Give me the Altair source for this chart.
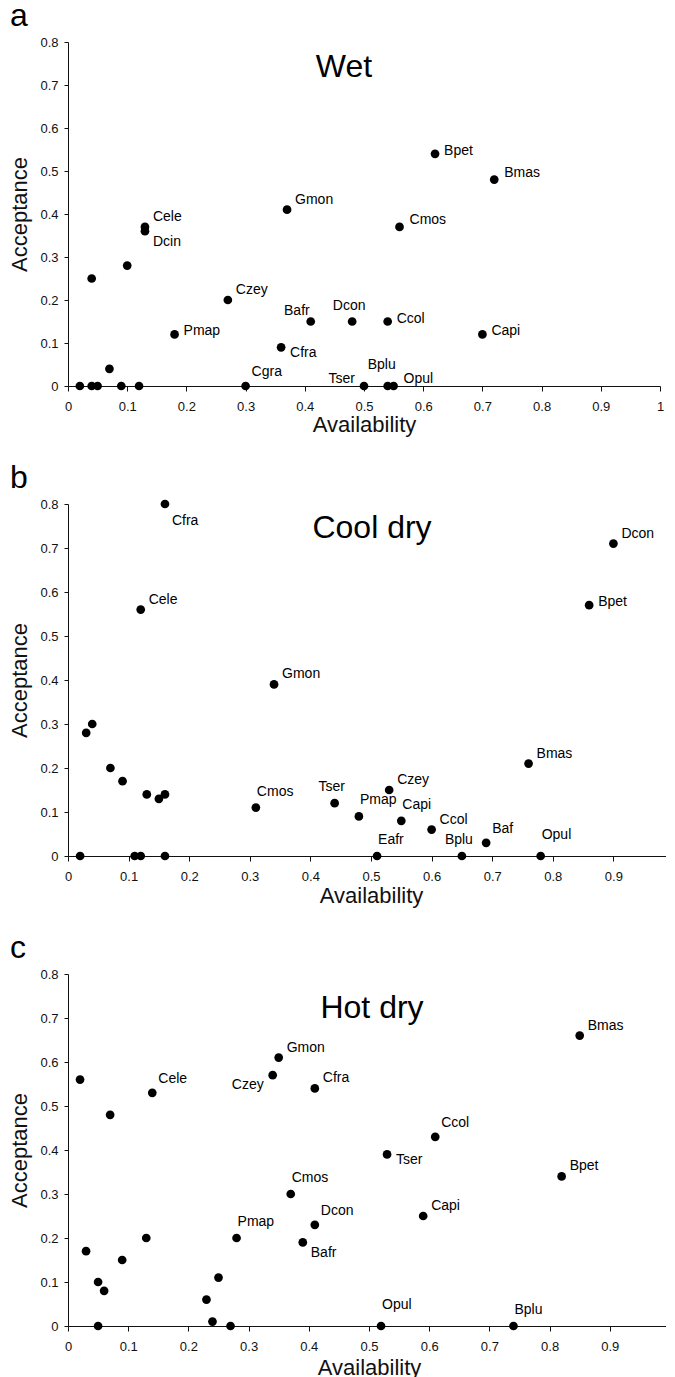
import altair as alt
import pandas as pd

FONT = "Liberation Sans"

# ---------------- Panel a: Wet ----------------
wet_species = ["", "", "", "", "", "", "", "",
               "Cele", "Dcin", "Gmon", "Cmos", "Czey", "Pmap", "Bafr", "Dcon",
               "Ccol", "Capi", "Cfra", "Cgra", "Tser", "Bplu", "Opul", "Bpet", "Bmas"]
wet_avail = [0.02, 0.04, 0.05, 0.09, 0.12, 0.07, 0.04, 0.10,
             0.13, 0.13, 0.37, 0.56, 0.27, 0.18, 0.41, 0.48,
             0.54, 0.70, 0.36, 0.30, 0.50, 0.54, 0.55, 0.62, 0.72]
wet_accept = [0.0, 0.0, 0.0, 0.0, 0.0, 0.04, 0.25, 0.28,
              0.37, 0.36, 0.41, 0.37, 0.20, 0.12, 0.15, 0.15,
              0.15, 0.12, 0.09, 0.0, 0.0, 0.0, 0.0, 0.54, 0.48]
wet_side = ["", "", "", "", "", "", "", "",
            "NE", "SEb", "NE", "NEl", "NE", "E", "NW", "NC",
            "E", "E", "SE", "NE2", "W", "NC2", "NEl", "E", "NEl"]

# ---------------- Panel b: Cool dry ----------------
cool_species = ["", "", "", "", "", "", "", "", "", "", "",
                "Cfra", "Cele", "Dcon", "Bpet", "Gmon", "Cmos", "Tser", "Pmap",
                "Czey", "Capi", "Ccol", "Baf", "Bmas", "Eafr", "Bplu", "Opul"]
cool_avail = [0.02, 0.11, 0.12, 0.16, 0.03, 0.04, 0.07, 0.09, 0.13, 0.15, 0.16,
              0.16, 0.12, 0.90, 0.86, 0.34, 0.31, 0.44, 0.48,
              0.53, 0.55, 0.60, 0.69, 0.76, 0.51, 0.65, 0.78]
cool_accept = [0.0, 0.0, 0.0, 0.0, 0.28, 0.30, 0.20, 0.17, 0.14, 0.13, 0.14,
               0.80, 0.56, 0.71, 0.57, 0.39, 0.11, 0.12, 0.09,
               0.15, 0.08, 0.06, 0.03, 0.21, 0.0, 0.0, 0.0]
cool_side = ["", "", "", "", "", "", "", "", "", "", "",
             "SE2", "NE", "NE", "E", "NE", "N", "NC", "N",
             "NE", "N", "NE", "NE2", "NE", "N", "NC", "N2"]

# ---------------- Panel c: Hot dry ----------------
hot_species = ["", "", "", "", "", "", "", "", "", "", "", "",
               "Cele", "Czey", "Gmon", "Cfra", "Bmas", "Ccol", "Tser", "Bpet",
               "Cmos", "Dcon", "Bafr", "Capi", "Pmap", "Opul", "Bplu"]
hot_avail = [0.02, 0.07, 0.03, 0.05, 0.06, 0.05, 0.09, 0.13, 0.23, 0.24, 0.25, 0.27,
             0.14, 0.34, 0.35, 0.41, 0.85, 0.61, 0.53, 0.82,
             0.37, 0.41, 0.39, 0.59, 0.28, 0.52, 0.74]
hot_accept = [0.56, 0.48, 0.17, 0.10, 0.08, 0.0, 0.15, 0.20, 0.06, 0.01, 0.11, 0.0,
              0.53, 0.57, 0.61, 0.54, 0.66, 0.43, 0.39, 0.34,
              0.30, 0.23, 0.19, 0.25, 0.20, 0.0, 0.0]
hot_side = ["", "", "", "", "", "", "", "", "", "", "", "",
            "NE2", "SW", "NE", "NE", "NE", "NE2", "SE", "NE",
            "N", "NE2", "SEb", "NE", "N", "N2", "N"]

x_ticks = [0, 0.1, 0.2, 0.3, 0.4, 0.5, 0.6, 0.7, 0.8, 0.9, 1]
y_ticks = [0, 0.1, 0.2, 0.3, 0.4, 0.5, 0.6, 0.7, 0.8]

# label placement styles (pixel offsets from the dot)
PLACES = {
    "E":   dict(align="left", dx=9, dy=-3),
    "NE":  dict(align="left", dx=8, dy=-10),
    "NEl": dict(align="left", dx=10, dy=-7),
    "NE2": dict(align="left", dx=6, dy=-14),
    "SE":  dict(align="left", dx=9, dy=6),
    "SEb": dict(align="left", dx=8, dy=11),
    "SE2": dict(align="left", dx=7, dy=17),
    "N":   dict(align="left", dx=1, dy=-16),
    "N2":  dict(align="left", dx=1, dy=-21),
    "NC":  dict(align="center", dx=-3, dy=-16),
    "NC2": dict(align="center", dx=-6, dy=-21),
    "NW":  dict(align="right", dx=-1, dy=-11),
    "W":   dict(align="right", dx=-9, dy=-7),
    "SW":  dict(align="right", dx=-9, dy=10),
}


def panel(species, avail, accept, side, letter, name, width, height,
          name_x, name_y, xtitle_pad):
    df = pd.DataFrame({"species": species, "availability": avail,
                       "acceptance": accept, "side": side})
    x = alt.X("availability:Q",
              scale=alt.Scale(domain=[0, 1], nice=False, zero=True),
              axis=alt.Axis(values=x_ticks, format=".1~f", title="Availability",
                            grid=False, tickSize=5, labelPadding=9,
                            labelFlush=False, labelOverlap=False,
                            labelFont=FONT, labelFontSize=13, labelColor="#111",
                            titleFont=FONT, titleFontSize=22, titleFontWeight="normal",
                            titleColor="#111", titlePadding=xtitle_pad,
                            domainColor="#111", tickColor="#111"))
    y = alt.Y("acceptance:Q",
              scale=alt.Scale(domain=[0, 0.8], nice=False, zero=True),
              axis=alt.Axis(values=y_ticks, format=".1~f", title="Acceptance",
                            grid=False, tickSize=4, labelPadding=6,
                            labelFont=FONT, labelFontSize=13, labelColor="#111",
                            titleFont=FONT, titleFontSize=22, titleFontWeight="normal",
                            titleColor="#111", titlePadding=8,
                            domainColor="#111", tickColor="#111"))
    base = alt.Chart(df)
    layers = [base.mark_circle(size=76, color="black", opacity=1).encode(x=x, y=y)]
    for key, p in PLACES.items():
        layers.append(
            base.transform_filter(alt.datum.side == key)
            .mark_text(baseline="middle", font=FONT, fontSize=14, color="black", **p)
            .encode(x=x, y=y, text="species:N")
        )
    one = pd.DataFrame({"k": [0]})
    layers.append(
        alt.Chart(one).mark_text(text=name, font=FONT, fontSize=32, color="black",
                                 align="center", baseline="alphabetic")
        .encode(x=alt.value(name_x), y=alt.value(name_y))
    )
    layers.append(
        alt.Chart(one).mark_text(text=letter, font=FONT, fontSize=32, color="black",
                                 align="left", baseline="alphabetic")
        .encode(x=alt.value(-58), y=alt.value(-16))
    )
    return alt.layer(*layers).properties(width=width, height=height)


pa = panel(wet_species, wet_avail, wet_accept, wet_side, "a", "Wet",
           592, 344, 276, 35, 1)
pb = panel(cool_species, cool_avail, cool_accept, cool_side, "b", "Cool dry",
           606, 352, 304, 34, 2)
pc = panel(hot_species, hot_avail, hot_accept, hot_side, "c", "Hot dry",
           602, 352, 304, 44, 4)

chart = (
    alt.vconcat(pa, pb, pc, spacing=118, bounds="flush")
    .properties(padding={"top": -8, "left": 0, "right": -12, "bottom": 0},
                background="white")
    .configure_view(stroke=None)
)

chart.save("out.html", embed_options={"renderer": "svg", "actions": False})
